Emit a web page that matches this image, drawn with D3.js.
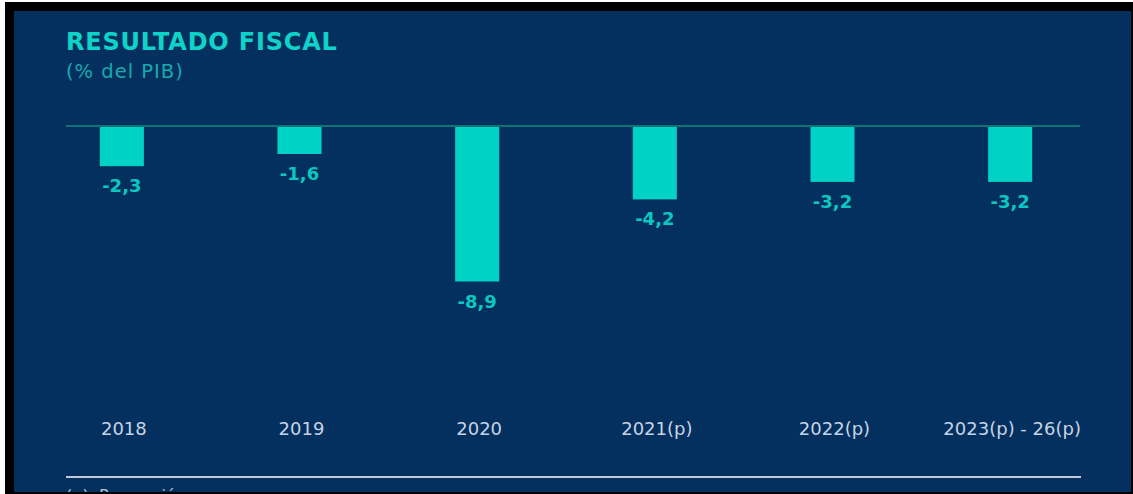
<!DOCTYPE html>
<html>
<head>
<meta charset="utf-8">
<script src="https://cdn.jsdelivr.net/npm/d3@7"></script>
<style>
  html, body { margin: 0; padding: 0; background: #ffffff; }
  svg { display: block; }
</style>
</head>
<body>
<svg id="chart" width="1133" height="494"></svg>
<script>
const categories = ["2018", "2019", "2020", "2021(p)", "2022(p)", "2023(p) - 26(p)"];
const values = [-2.3, -1.6, -8.9, -4.2, -3.2, -3.2];
const valueLabels = ["-2,3", "-1,6", "-8,9", "-4,2", "-3,2", "-3,2"];
const titleText = "RESULTADO FISCAL";
const subtitleText = "(% del PIB)";
const footnoteText = "(p): Proyección";

const svg = d3.select("#chart");
const W = 1133, H = 494;

// frame
svg.append("rect").attr("x", 0).attr("y", 0).attr("width", W).attr("height", H).attr("fill", "#ffffff");
svg.append("rect").attr("x", 5).attr("y", 2).attr("width", W - 5).attr("height", H - 2).attr("fill", "#000000");
svg.append("rect").attr("x", 14).attr("y", 11).attr("width", 1117).attr("height", 481).attr("fill", "#03305f");

const clip = svg.append("defs").append("clipPath").attr("id", "panel");
clip.append("rect").attr("x", 14).attr("y", 11).attr("width", 1117).attr("height", 481);
const g = svg.append("g").attr("clip-path", "url(#panel)");

// titles
g.append("text").attr("x", 66).attr("y", 50)
  .attr("font-family", "DejaVu Sans").attr("font-weight", "bold").attr("font-size", 24)
  .attr("letter-spacing", 0.8).attr("fill", "#0fd3c9").text(titleText);
g.append("text").attr("x", 66).attr("y", 78)
  .attr("font-family", "DejaVu Sans").attr("font-size", 19.5)
  .attr("letter-spacing", 1).attr("fill", "#1aa9ae").text(subtitleText);

// scales
const x = d3.scaleBand().domain(categories).range([33, 1099])
  .paddingInner(0.752).paddingOuter(0.376);
const y = d3.scaleLinear().domain([0, -8.9]).range([126, 281.5]);

// bars
g.selectAll("rect.bar").data(values).join("rect").attr("class", "bar")
  .attr("x", (d, i) => x(categories[i]))
  .attr("y", y(0))
  .attr("width", x.bandwidth())
  .attr("height", d => y(d) - y(0))
  .attr("fill", "#00d2c6");

// zero line
g.append("line").attr("x1", 66).attr("x2", 1080).attr("y1", y(0)).attr("y2", y(0))
  .attr("stroke", "#0f7277").attr("stroke-width", 2);

// value labels
g.selectAll("text.val").data(values).join("text").attr("class", "val")
  .attr("x", (d, i) => x(categories[i]) + x.bandwidth() / 2)
  .attr("y", d => y(d) + 26)
  .attr("text-anchor", "middle")
  .attr("font-family", "DejaVu Sans").attr("font-weight", "bold").attr("font-size", 18)
  .attr("fill", "#0bc7bf")
  .text((d, i) => valueLabels[i]);

// category axis (labels only)
const xAxis = d3.axisBottom(x).tickSize(0).tickPadding(0);
const ax = g.append("g").attr("transform", "translate(2,421)").call(xAxis);
ax.select(".domain").remove();
ax.selectAll("text")
  .attr("font-family", "DejaVu Sans").attr("font-size", 18)
  .attr("fill", "#c8d3e4").attr("dy", "0.78em");

// bottom rule
g.append("line").attr("x1", 66).attr("x2", 1081).attr("y1", 477).attr("y2", 477)
  .attr("stroke", "#c3cad6").attr("stroke-width", 2);

// footnote (cut by frame)
g.append("text").attr("x", 66).attr("y", 501)
  .attr("font-family", "DejaVu Sans").attr("font-size", 16)
  .attr("fill", "#b9c4d4").text(footnoteText);
</script>
</body>
</html>
